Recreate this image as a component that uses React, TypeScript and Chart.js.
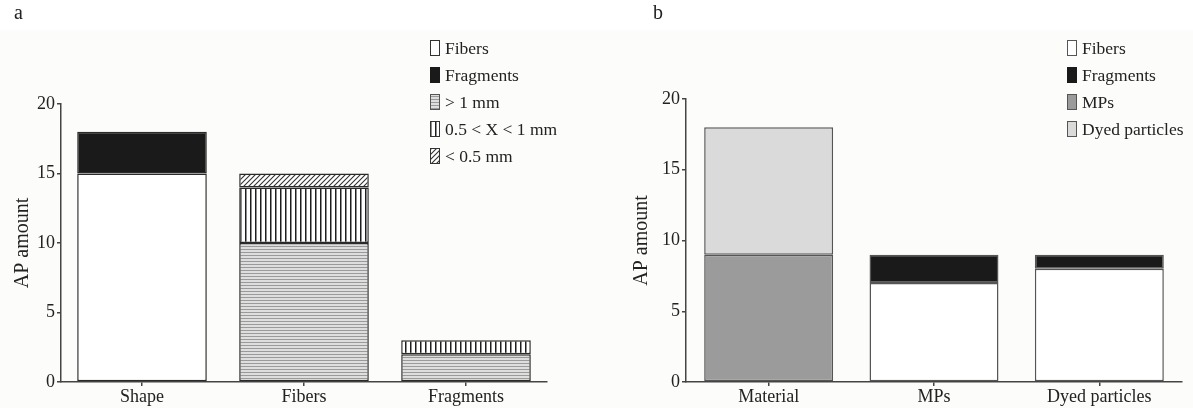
import React, { useEffect, useRef } from "react";
import { Chart, registerables } from "chart.js";

Chart.register(...registerables);

// ---------- data ----------
const catsA = ["Shape", "Fibers", "Fragments"];
const fibersA = [15, null, null];
const fragmentsA = [3, null, null];
const gt1mmA = [null, 10, 2];
const midA = [null, 4, 1];
const lt05A = [null, 1, 0];
const legendA = ["Fibers", "Fragments", "> 1 mm", "0.5 < X < 1 mm", "< 0.5 mm"];

const catsB = ["Material", "MPs", "Dyed particles"];
const fibersB = [null, 7, 8];
const fragmentsB = [null, 2, 1];
const mpsB = [9, null, null];
const dyedB = [9, null, null];
const legendB = ["Fibers", "Fragments", "MPs", "Dyed particles"];

const yTicks = [0, 5, 10, 15, 20];
const yTitle = "AP amount";

const FONT = "'Liberation Serif', 'Times New Roman', serif";

// ---------- patterns ----------
function makePattern(kind: string): CanvasPattern | string {
  const c = document.createElement("canvas");
  const ctx = c.getContext("2d")!;
  if (kind === "h") {
    c.width = 4; c.height = 3;
    ctx.fillStyle = "#dedede"; ctx.fillRect(0, 0, 4, 3);
    ctx.fillStyle = "#9a9a9a"; ctx.fillRect(0, 0, 4, 1);
  } else if (kind === "v") {
    c.width = 5; c.height = 4;
    ctx.fillStyle = "#ffffff"; ctx.fillRect(0, 0, 5, 4);
    ctx.fillStyle = "#1e1e1e"; ctx.fillRect(0, 0, 1.5, 4);
  } else {
    c.width = 5; c.height = 5;
    ctx.fillStyle = "#ffffff"; ctx.fillRect(0, 0, 5, 5);
    ctx.strokeStyle = "#333333"; ctx.lineWidth = 1.1;
    ctx.beginPath();
    ctx.moveTo(-1, 6); ctx.lineTo(6, -1);
    ctx.moveTo(-1, 1); ctx.lineTo(1, -1);
    ctx.moveTo(4, 6); ctx.lineTo(6, 4);
    ctx.stroke();
  }
  return ctx.createPattern(c, "repeat")!;
}

function legendPlugin(items: { label: string; fill: any; border: string }[], boxX: number, y0: number, step: number) {
  return {
    id: "customLegend",
    afterDraw(chart: any) {
      const ctx = chart.ctx;
      ctx.save();
      items.forEach((it, i) => {
        const cy = y0 + i * step;
        const w = 10, h = 16;
        ctx.fillStyle = it.fill;
        ctx.fillRect(boxX, cy - h / 2, w, h);
        ctx.strokeStyle = it.border;
        ctx.lineWidth = 1;
        ctx.strokeRect(boxX + 0.5, cy - h / 2 + 0.5, w - 1, h - 1);
        ctx.fillStyle = "#222";
        ctx.font = `17.5px ${FONT}`;
        ctx.textBaseline = "middle";
        ctx.textAlign = "left";
        ctx.fillText(it.label, boxX + 15, cy + 1);
      });
      ctx.restore();
    },
  };
}

function makeOptions(padLeft: number, yWidth: number, padTop: number, padRight: number, catPct: number, axisColor: string): any {
  return {
    responsive: false,
    animation: false,
    layout: { padding: { left: padLeft, top: padTop, right: padRight, bottom: 0 } },
    plugins: { legend: { display: false }, tooltip: { enabled: false } },
    datasets: { bar: { categoryPercentage: catPct, barPercentage: 1.0 } },
    scales: {
      x: {
        stacked: true,
        offset: true,
        grid: { display: true, drawOnChartArea: false, drawTicks: true, tickLength: 4, offset: false, color: axisColor, lineWidth: 1.5 },
        border: { display: true, color: axisColor, width: 1.5 },
        ticks: { color: "#222", font: { family: FONT, size: 18 }, padding: 0, maxRotation: 0 },
        afterFit: (s: any) => { s.height = 26; },
      },
      y: {
        stacked: true,
        min: 0,
        max: 20,
        afterBuildTicks: (s: any) => { s.ticks = yTicks.map((v) => ({ value: v })); },
        grid: { display: true, drawOnChartArea: false, drawTicks: true, tickLength: 4, color: axisColor, lineWidth: 1.5 },
        border: { display: true, color: axisColor, width: 1.5 },
        ticks: { color: "#222", font: { family: FONT, size: 18 }, padding: 2 },
        title: { display: true, text: yTitle, color: "#222", font: { family: FONT, size: 20 }, padding: { top: 11, bottom: 0 } },
        afterFit: (s: any) => { s.width = yWidth; },
      },
    },
  };
}

function PanelA() {
  const ref = useRef<HTMLCanvasElement>(null);
  useEffect(() => {
    const h = makePattern("h"), v = makePattern("v"), d = makePattern("d");
    const bc = "#2a2a2a";
    const ds = (label: string, data: any[], fill: any) => ({
      label, data, backgroundColor: fill, borderColor: bc, borderWidth: 1.5, borderSkipped: false,
    });
    const chart = new Chart(ref.current!, {
      type: "bar",
      data: {
        labels: catsA,
        datasets: [
          ds(legendA[0], fibersA, "#ffffff"),
          ds(legendA[1], fragmentsA, "#1a1a1a"),
          ds(legendA[2], gt1mmA, h),
          ds(legendA[3], midA, v),
          ds(legendA[4], lt05A, d),
        ],
      },
      options: makeOptions(0, 61, 104, 49, 0.8, "#444"),
      plugins: [legendPlugin([
        { label: legendA[0], fill: "#ffffff", border: "#333" },
        { label: legendA[1], fill: "#1a1a1a", border: "#1a1a1a" },
        { label: legendA[2], fill: h, border: "#555" },
        { label: legendA[3], fill: v, border: "#333" },
        { label: legendA[4], fill: d, border: "#333" },
      ], 430, 48, 27)],
    } as any);
    return () => chart.destroy();
  }, []);
  return <canvas ref={ref} width={596} height={408} style={{ position: "absolute", left: 0, top: 0 }} />;
}

function PanelB() {
  const ref = useRef<HTMLCanvasElement>(null);
  useEffect(() => {
    const bc = "#555555";
    const ds = (label: string, data: any[], fill: any) => ({
      label, data, backgroundColor: fill, borderColor: bc, borderWidth: 1.5, borderSkipped: false,
    });
    const chart = new Chart(ref.current!, {
      type: "bar",
      data: {
        labels: catsB,
        datasets: [
          ds(legendB[0], fibersB, "#ffffff"),
          ds(legendB[1], fragmentsB, "#1a1a1a"),
          ds(legendB[2], mpsB, "#9b9b9b"),
          ds(legendB[3], dyedB, "#dadada"),
        ],
      },
      options: makeOptions(23, 67, 99, 11, 0.78, "#444"),
      plugins: [legendPlugin([
        { label: legendB[0], fill: "#ffffff", border: "#555" },
        { label: legendB[1], fill: "#1a1a1a", border: "#1a1a1a" },
        { label: legendB[2], fill: "#9b9b9b", border: "#555" },
        { label: legendB[3], fill: "#dadada", border: "#555" },
      ], 471, 48, 27)],
    } as any);
    return () => chart.destroy();
  }, []);
  return <canvas ref={ref} width={597} height={408} style={{ position: "absolute", left: 596, top: 0 }} />;
}

export default function App() {
  return (
    <div style={{ position: "fixed", left: 0, top: 0, width: 1193, height: 408, background: "#ffffff", overflow: "hidden" }}>
      <div style={{ position: "absolute", left: 0, top: 30, width: 1193, height: 378, background: "#fcfcfa" }} />
      <PanelA />
      <PanelB />
      <div style={{ position: "absolute", left: 14, top: 0, fontFamily: FONT, fontSize: 20, color: "#222", lineHeight: "24px" }}>a</div>
      <div style={{ position: "absolute", left: 653, top: 0, fontFamily: FONT, fontSize: 20, color: "#222", lineHeight: "24px" }}>b</div>
    </div>
  );
}
